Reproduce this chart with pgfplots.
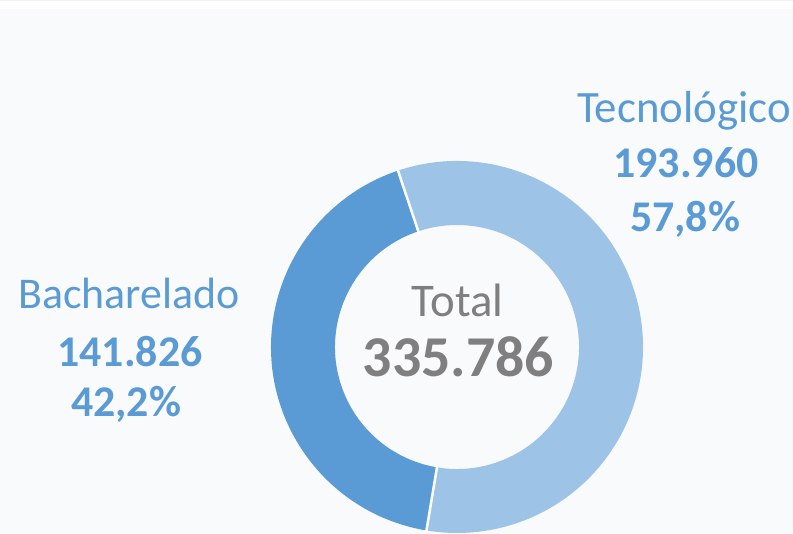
\documentclass[border=0pt]{standalone}
\usepackage{pgfplots}
\usepackage{pgfplotstable}
\pgfplotsset{compat=1.18}
\usepackage{fontspec}
\setmainfont{Carlito}
\definecolor{cdark}{HTML}{5B9BD5}
\definecolor{clight}{HTML}{9DC3E6}
\definecolor{ctext}{HTML}{5B9BD5}
\definecolor{cgray}{HTML}{7F7F7F}
\definecolor{cbg}{HTML}{F9FAFC}
\definecolor{ctop}{HTML}{EEF4EC}
\pgfplotstableread{
cat valor
Tecnologico 193.960
Bacharelado 141.826
}\dados
\begin{document}
\begin{tikzpicture}
\pgfplotstablegetelem{0}{valor}\of\dados \let\vT\pgfplotsretval
\pgfplotstablegetelem{1}{valor}\of\dados \let\vB\pgfplotsretval
\pgfmathsetmacro\total{\vT+\vB}
\pgfmathsetmacro\frac{\vT/\total}
\pgfmathsetmacro\aStart{108.5}
\pgfmathsetmacro\aMid{\aStart-360*\frac}
\pgfmathsetmacro\aEnd{\aStart-360}
\pgfmathsetmacro\aMidIn{\aMid+180}
\pgfmathsetmacro\aEndIn{\aEnd+180}
\begin{axis}[x=1bp, y=1bp, xmin=0, xmax=793, ymin=0, ymax=534,
  hide axis, clip=true]
\fill[white] (axis cs:0,0) rectangle (axis cs:793,534);
\fill[ctop] (axis cs:0,532.5) rectangle (axis cs:793,534);
\fill[cbg] (axis cs:0,0) rectangle (axis cs:793,524.5);
% Tecnologico
\fill[clight] (axis cs:457,187) ++(\aStart:186bp) arc[start angle=\aStart, end angle=\aMid, radius=186bp]
  -- ++(\aMidIn:64bp) arc[start angle=\aMid, end angle=\aStart, radius=122bp] -- cycle;
% Bacharelado
\fill[cdark] (axis cs:457,187) ++(\aMid:186bp) arc[start angle=\aMid, end angle=\aEnd, radius=186bp]
  -- ++(\aEndIn:64bp) arc[start angle=\aEnd, end angle=\aMid, radius=122bp] -- cycle;
\draw[white, line width=2.5bp] (axis cs:457,187) ++(\aStart:119bp) -- ++(\aStart:70bp);
\draw[white, line width=2.5bp] (axis cs:457,187) ++(\aMid:119bp) -- ++(\aMid:70bp);
% labels
\node[anchor=base, text=ctext, font=\fontsize{45}{45}\selectfont, inner sep=0] at (axis cs:684,411) {Tecnológico};
\node[anchor=base, text=ctext, font=\fontsize{44}{44}\selectfont\bfseries, inner sep=0] at (axis cs:686,356) {193.960};
\node[anchor=base, text=ctext, font=\fontsize{44}{44}\selectfont\bfseries, inner sep=0] at (axis cs:685,302) {57,8\%};
\node[anchor=base, text=ctext, font=\fontsize{44}{44}\selectfont, inner sep=0] at (axis cs:129,225) {Bacharelado};
\node[anchor=base, text=ctext, font=\fontsize{44}{44}\selectfont\bfseries, inner sep=0] at (axis cs:130,167) {141.826};
\node[anchor=base, text=ctext, font=\fontsize{44}{44}\selectfont\bfseries, inner sep=0] at (axis cs:126,117) {42,2\%};
\node[anchor=base, text=cgray, font=\fontsize{47}{47}\selectfont, inner sep=0] at (axis cs:457.5,217) {Total};
\node[anchor=base, text=cgray, font=\fontsize{58}{58}\selectfont\bfseries, inner sep=0] at (axis cs:458.5,157) {335.786};
\end{axis}
\end{tikzpicture}
\end{document}
